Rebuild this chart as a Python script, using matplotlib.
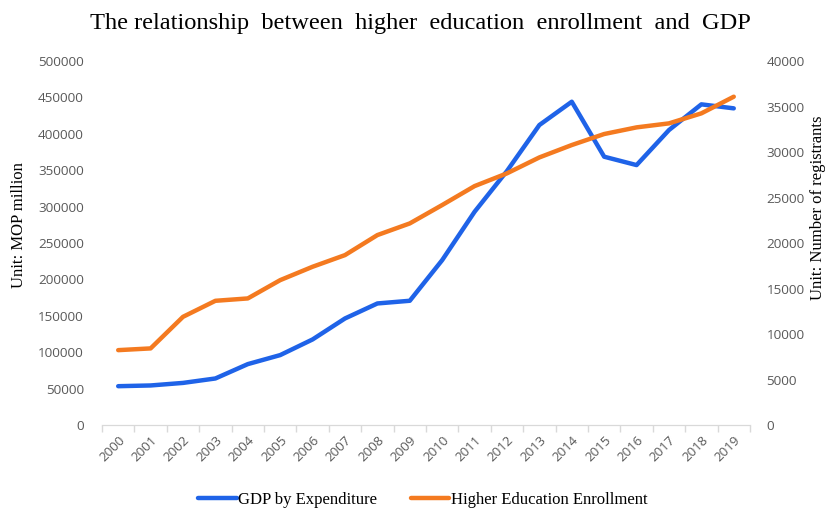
import matplotlib
matplotlib.use("Agg")
import matplotlib.pyplot as plt
from matplotlib.ticker import FixedLocator, MultipleLocator

years = [str(y) for y in range(2000, 2020)]
gdp = [53500, 54500, 58000, 64100, 83800, 96200, 117700, 146500, 167100, 170800,
       226600, 293000, 349000, 412100, 444100, 368600, 357100, 405200, 440500, 435000]
enroll = [8240, 8430, 11900, 13660, 13920, 15930, 17400, 18680, 20880, 22160,
          24180, 26260, 27660, 29410, 30770, 31980, 32710, 33150, 34250, 36080]

title = "The relationship  between  higher  education  enrollment  and  GDP"
left_label = "Unit: MOP million"
right_label = "Unit: Number of registrants"
gdp_name = "GDP by Expenditure"
enroll_name = "Higher Education Enrollment"

blue = "#1F63E8"
orange = "#F47A20"
tick_col = "#595959"
serif = ["Liberation Serif", "DejaVu Serif"]
sans = ["Open Sans", "DejaVu Sans"]

fig = plt.figure(figsize=(8.32, 5.11), dpi=100)
ax = fig.add_axes([0.1226, 0.168, 0.7788, 0.7126])
ax2 = ax.twinx()

x = list(range(len(years)))
l1, = ax.plot(x, gdp, color=blue, lw=3.2, solid_capstyle="round", solid_joinstyle="round", zorder=3)
l2, = ax2.plot(x, enroll, color=orange, lw=3.2, solid_capstyle="round", solid_joinstyle="round", zorder=3)

ax.set_xlim(-0.5, len(years) - 0.5)
ax.set_ylim(0, 500000)
ax2.set_ylim(0, 40000)
ax.yaxis.set_major_locator(MultipleLocator(50000))
ax2.yaxis.set_major_locator(MultipleLocator(5000))

ax.set_xticks(x)
ax.set_xticklabels(years, rotation=45, ha="right", rotation_mode="anchor",
                   fontsize=9.5, color=tick_col, family=sans)
ax.tick_params(axis="x", length=0, pad=6)
ax.xaxis.set_minor_locator(FixedLocator([i - 0.5 for i in range(len(years) + 1)]))
ax.tick_params(axis="x", which="minor", length=5, color="#D9D9D9", width=1)

for a in (ax, ax2):
    for s in ("top", "left", "right"):
        a.spines[s].set_visible(False)
    a.spines["bottom"].set_color("#D9D9D9")
    a.tick_params(axis="y", length=0, labelsize=9.7, labelcolor=tick_col)
    for lab in a.get_yticklabels():
        lab.set_family(sans)
ax.tick_params(axis="y", pad=13)
ax2.tick_params(axis="y", pad=12)

ax.set_ylabel(left_label, family=serif, fontsize=12)
ax2.set_ylabel(right_label, family=serif, fontsize=12)
ax.yaxis.set_label_coords(-0.115, 0.55)
ax2.yaxis.set_label_coords(1.093, 0.597)

fig.text(0.505, 0.954, title, ha="center", va="center", family=serif, fontsize=17.6)

fig.legend([l1, l2], [gdp_name, enroll_name], loc="center", bbox_to_anchor=(0.508, 0.022),
           ncol=2, frameon=False, prop={"family": serif, "size": 12},
           handlelength=2.3, handletextpad=0.1, columnspacing=2.0)

fig.savefig("out.png", dpi=100)
